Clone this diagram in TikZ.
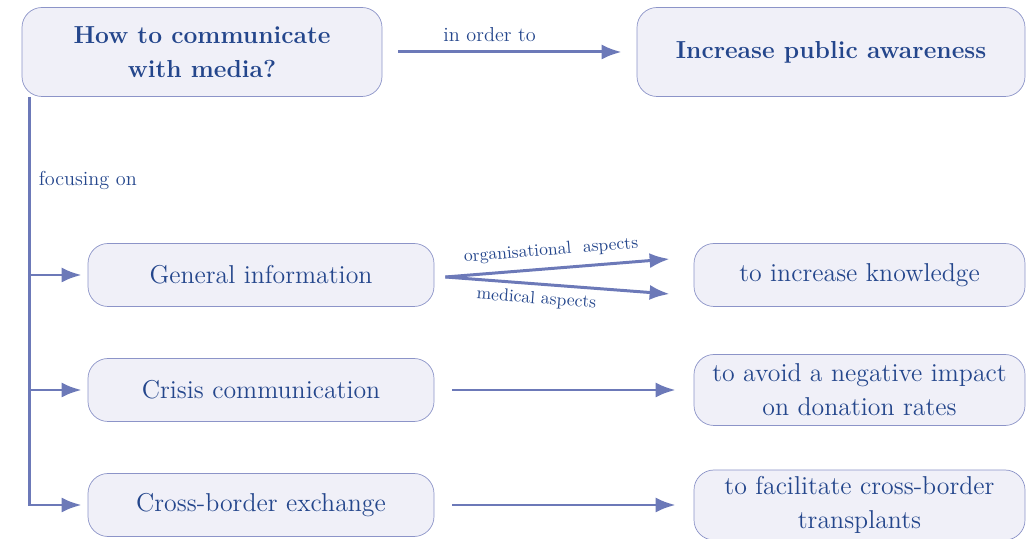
\documentclass[tikz,border=0pt]{standalone}
\usetikzlibrary{arrows.meta}
\definecolor{boxfill}{HTML}{F0F0F8}
\definecolor{boxline}{HTML}{8C94C8}
\definecolor{inktext}{HTML}{24468C}
\definecolor{arrowline}{HTML}{6C79B8}
\tikzset{
>={Latex[width=3mm,length=4mm]},
	headbox/.style={
		rectangle,
		rounded corners=0.4cm,
		fill=boxfill,
		draw=boxline, thin,
		text=inktext,
		font=\fontsize{14}{19.5}\selectfont\bfseries,
		align=center,
		minimum height=1.78cm},
	itembox/.style={
		rectangle,
		rounded corners=0.4cm,
		fill=boxfill,
		draw=boxline, thin,
		text=inktext,
		font=\fontsize{14.7}{19.5}\selectfont,
		align=center,
		minimum width=6.92cm,
		minimum height=1.26cm},
	goalbox/.style={
		itembox,
		minimum width=6.62cm},
	link/.style={
		->,
		draw=arrowline,
		line width=1.7pt},
	linklabel/.style={
		text=inktext,
		font=\fontsize{11.5}{13}\selectfont},
	slopelabel/.style={
		text=inktext,
		font=\fontsize{10}{12}\selectfont,
		sloped}
}
\begin{document}
\begin{tikzpicture}
[node distance=2.3cm]
\useasboundingbox (0,0) rectangle (20.64,-10.78);
\node[headbox, minimum width=7.2cm] (howto) at (4.04,-1.04) {How to communicate\\with media?};
\node[headbox, minimum width=7.76cm, right of=howto, xshift=10.28cm] (awareness) {Increase public awareness};
\node[itembox, below of=howto, xshift=1.18cm, yshift=-2.16cm] (general) {General information};
\node[itembox, below of=general] (crisis) {Crisis communication};
\node[itembox, below of=crisis] (cross) {Cross-border exchange};
\node[goalbox, right of=general, xshift=9.67cm] (knowledge) {to increase knowledge};
\node[goalbox, right of=crisis, xshift=9.67cm, minimum height=1.42cm] (avoid) {to avoid a negative impact\\on donation rates};
\node[goalbox, right of=cross, xshift=9.67cm, minimum height=1.4cm] (facilitate) {to facilitate cross-border\\transplants};
\coordinate (spine) at ([xshift=0.16cm]howto.south west);
\coordinate (split) at ([xshift=0.22cm, yshift=-0.04cm]general.east);
\coordinate (upper) at ([xshift=-0.48cm, yshift=0.32cm]knowledge.west);
\coordinate (lower) at ([xshift=-0.48cm, yshift=-0.38cm]knowledge.west);
\draw[link, shorten <=0.32cm, shorten >=0.3cm] (howto) -- node[linklabel, above, xshift=-0.4cm, yshift=0.05cm] {in order to} (awareness);
\draw[link, shorten >=0.12cm] (spine) |- (cross);
\draw[link, shorten >=0.12cm] (spine |- general) -- (general);
\draw[link, shorten >=0.12cm] (spine |- crisis) -- (crisis);
\node[linklabel, anchor=west] (focus) at ([xshift=0.06cm, yshift=-1.68cm]spine) {focusing on};
\draw[link] (split) -- node[slopelabel, above, xshift=-0.1cm, yshift=0.05cm] {organisational\ \ aspects} (upper);
\draw[link] (split) -- node[slopelabel, below, xshift=-0.4cm] {medical aspects} (lower);
\draw[link, shorten <=0.36cm, shorten >=0.36cm] (crisis) -- (avoid);
\draw[link, shorten <=0.36cm, shorten >=0.36cm] (cross) -- (facilitate);
\end{tikzpicture}
\end{document}
